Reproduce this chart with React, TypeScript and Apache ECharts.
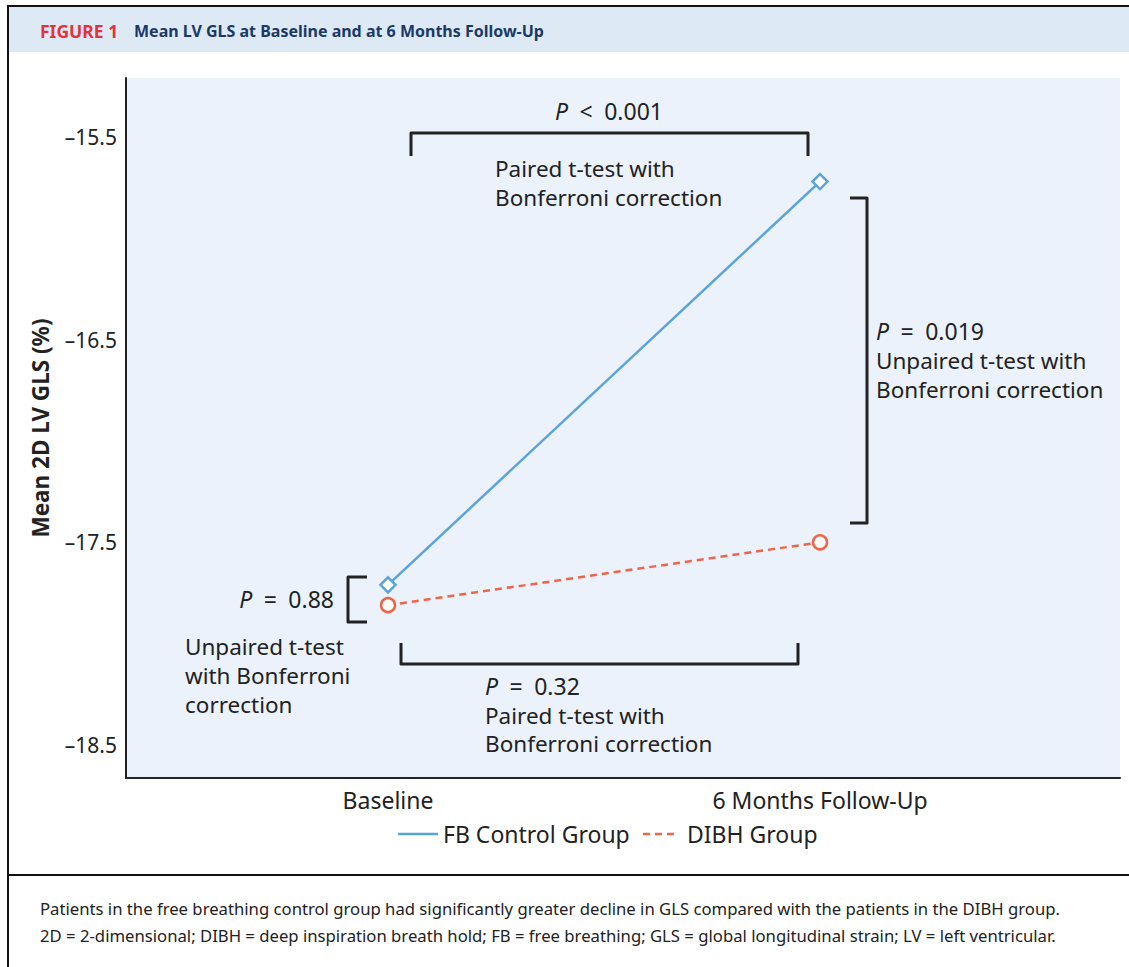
import React, { useEffect, useRef } from "react";
import * as echarts from "echarts";

const categories = ["Baseline", "6 Months Follow-Up"];
const fbControl = [-17.71, -15.72];
const dibh = [-17.81, -17.5];
const yTicks = [-18.5, -17.5, -16.5, -15.5];
const seriesNames = ["FB Control Group", "DIBH Group"];

const BLUE = "#5aa3db";
const RED = "#f0654a";
const INK = "#222222";
const FONT = "'Noto Sans', 'Open Sans', sans-serif";
const FS = 22.5;

export default function App() {
  const ref = useRef<HTMLDivElement>(null);
  useEffect(() => {
    const chart = echarts.init(ref.current!, null, { renderer: "svg" });
    const txt = (x: number, y: number, text: string, extra: any = {}) => ({
      type: "text",
      x,
      y,
      style: {
        text,
        font: `${FS}px ${FONT}`,
        fill: INK,
        textVerticalAlign: "middle",
        rich: {
          i: { fontStyle: "italic", fontSize: FS + 0.5, fontFamily: FONT, fill: INK },
          n: { fontSize: FS + 0.5, fontFamily: FONT, fill: INK },
        },
        ...extra,
      },
    });
    const bracketStyle = { stroke: INK, lineWidth: 3, fill: null, lineJoin: "round", lineCap: "butt" };
    const option: any = {
      animation: false,
      grid: {
        left: 126,
        top: 78,
        right: 9,
        bottom: 189,
        show: true,
        backgroundColor: "#ebf2fb",
        borderWidth: 0,
      },
      xAxis: {
        type: "value",
        min: -0.6065,
        max: 1.6944,
        splitLine: { show: false },
        axisTick: { show: false },
        axisLine: { show: true, onZero: false, lineStyle: { color: INK, width: 2 } },
        axisLabel: {
          customValues: [0, 1],
          formatter: (v: number) => categories[Math.round(v)] ?? "",
          color: INK,
          fontSize: 23,
          fontFamily: FONT,
          margin: 10,
        },
      },
      yAxis: {
        type: "value",
        min: -18.663,
        max: -15.209,
        splitLine: { show: false },
        axisTick: { show: false },
        axisLine: { show: true, onZero: false, lineStyle: { color: INK, width: 2 } },
        axisLabel: {
          customValues: yTicks,
          formatter: (v: number) => "\u2013" + Math.abs(v).toFixed(1),
          color: INK,
          fontSize: 21,
          fontFamily: FONT,
          margin: 9,
        },
        name: "Mean 2D LV GLS (%)",
        nameLocation: "middle",
        nameRotate: 90,
        nameGap: 74,
        nameTextStyle: { color: INK, fontSize: 22.5, fontWeight: "bold", fontFamily: FONT },
      },
      series: [
        {
          name: seriesNames[0],
          type: "line",
          data: fbControl.map((v, i) => [i, v]),
          symbol: "diamond",
          symbolSize: 15,
          lineStyle: { color: BLUE, width: 2.5 },
          itemStyle: { color: "#ffffff", borderColor: BLUE, borderWidth: 2.5 },
          z: 3,
        },
        {
          name: seriesNames[1],
          type: "line",
          data: dibh.map((v, i) => [i, v]),
          symbol: "circle",
          symbolSize: 14,
          lineStyle: { color: RED, width: 2.5, type: [7, 5] },
          itemStyle: { color: "#ffffff", borderColor: RED, borderWidth: 2.5 },
          z: 3,
        },
      ],
      graphic: [
        // header band
        { type: "rect", shape: { x: 8, y: 6, width: 1121, height: 46 }, style: { fill: "#dde9f5" }, silent: true },
        { type: "line", shape: { x1: 8, y1: 6, x2: 1129, y2: 6 }, style: { stroke: "#111", lineWidth: 2 } },
        { type: "line", shape: { x1: 8, y1: 5, x2: 8, y2: 967 }, style: { stroke: "#111", lineWidth: 2 } },
        { type: "line", shape: { x1: 8, y1: 875, x2: 1129, y2: 875 }, style: { stroke: "#111", lineWidth: 2 } },
        {
          type: "text",
          x: 40,
          y: 31,
          style: {
            text: "FIGURE 1",
            textVerticalAlign: "middle",
            fill: "#e0343c",
            font: `bold 17.5px ${FONT}`,
          },
        },
        {
          type: "text",
          x: 134,
          y: 31,
          style: {
            text: "Mean LV GLS at Baseline and at 6 Months Follow-Up",
            textVerticalAlign: "middle",
            fill: "#1c3966",
            font: `bold 16px ${FONT}`,
          },
        },
        // top bracket
        { type: "polyline", shape: { points: [[411, 156], [411, 133], [808, 133], [808, 156]] }, style: bracketStyle },
        txt(609, 111, "{i|P}{n|\u2002<\u20020.001}", { textAlign: "center" }),
        txt(495, 168, "Paired t-test with"),
        txt(495, 197, "Bonferroni correction"),
        // right bracket
        { type: "polyline", shape: { points: [[850, 198], [867, 198], [867, 523], [850, 523]] }, style: bracketStyle },
        txt(876, 331, "{i|P}{n|\u2002=\u20020.019}"),
        txt(876, 360, "Unpaired t-test with"),
        txt(876, 389, "Bonferroni correction"),
        // left small bracket
        { type: "polyline", shape: { points: [[367, 577], [348, 577], [348, 622], [367, 622]] }, style: bracketStyle },
        txt(334, 599, "{i|P}{n|\u2002=\u20020.88}", { textAlign: "right" }),
        txt(185, 646, "Unpaired t-test"),
        txt(185, 675, "with Bonferroni"),
        txt(185, 704, "correction"),
        // bottom bracket
        { type: "polyline", shape: { points: [[401, 643], [401, 664], [798, 664], [798, 643]] }, style: bracketStyle },
        txt(485, 686, "{i|P}{n|\u2002=\u20020.32}"),
        txt(485, 715, "Paired t-test with"),
        txt(485, 743, "Bonferroni correction"),
        // legend
        { type: "line", shape: { x1: 398, y1: 834, x2: 438, y2: 834 }, style: { stroke: BLUE, lineWidth: 2.5 } },
        txt(443, 834, seriesNames[0], { font: `23px ${FONT}` }),
        { type: "line", shape: { x1: 643, y1: 834, x2: 679, y2: 834 }, style: { stroke: RED, lineWidth: 2.5, lineDash: [7, 5] } },
        txt(687, 834, seriesNames[1], { font: `23px ${FONT}` }),
        // caption
        {
          type: "text",
          x: 40,
          y: 908,
          style: {
            text: "Patients in the free breathing control group had significantly greater decline in GLS compared with the patients in the DIBH group.",
            font: `16.7px ${FONT}`,
            fill: INK,
            textVerticalAlign: "middle",
          },
        },
        {
          type: "text",
          x: 40,
          y: 935,
          style: {
            text: "2D = 2-dimensional; DIBH = deep inspiration breath hold; FB = free breathing; GLS = global longitudinal strain; LV = left ventricular.",
            font: `16.7px ${FONT}`,
            fill: INK,
            textVerticalAlign: "middle",
          },
        },
      ],
    };
    chart.setOption(option);
    return () => chart.dispose();
  }, []);
  return (
    <div
      ref={ref}
      style={{ position: "fixed", left: 0, top: 0, width: 1129, height: 967, background: "#fff" }}
    />
  );
}
